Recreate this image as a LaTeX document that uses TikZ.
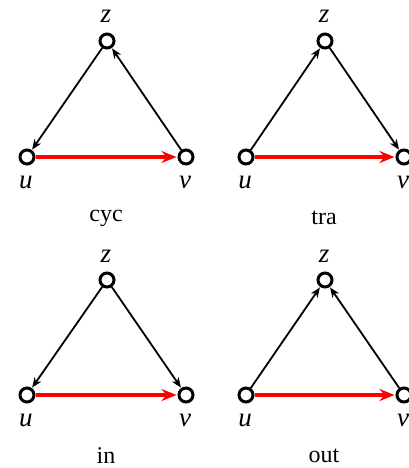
\documentclass[tikz,border=0pt]{standalone}
\usepackage{fontspec}
\setmainfont{Liberation Serif}
\usetikzlibrary{arrows.meta}
\tikzset{
  vtx/.style={circle,draw=black,fill=white,line width=3pt,minimum size=14pt,inner sep=0pt},
  lbl/.style={font=\fontsize{27}{29}\selectfont\itshape,inner sep=0pt},
  captxt/.style={font=\fontsize{24}{26}\selectfont,inner sep=0pt},
  blk/.style={line width=1.8pt,-{Stealth[length=10pt,width=8pt,inset=3pt]},shorten >=0.5pt},
  redarr/.style={red,line width=3.4pt,-{Stealth[length=15pt,width=12pt,inset=5pt]},shorten >=1pt}
}
\begin{document}
\begin{tikzpicture}[x=1pt,y=-1pt]
\useasboundingbox (0,0) rectangle (409,468);
% cyc
\node[vtx] (z1) at (107,41) {};
\node[vtx] (u1) at (27,157) {};
\node[vtx] (v1) at (186,157) {};
\node[lbl] (zl1) at (106,16) {z};
\node[lbl] (ul1) at (26,182) {u};
\node[lbl] (vl1) at (185,182) {v};
\node[captxt] (c1) at (106,218) {cyc};
\draw[blk] (z1) -- (u1);
\draw[blk] (v1) -- (z1);
\draw[redarr] (u1) -- (v1);
% tra
\node[vtx] (z2) at (325,41) {};
\node[vtx] (u2) at (246,157) {};
\node[vtx] (v2) at (404,157) {};
\node[lbl] (zl2) at (324,16) {z};
\node[lbl] (ul2) at (245,182) {u};
\node[lbl] (vl2) at (403,182) {v};
\node[captxt] (c2) at (324,218) {tra};
\draw[blk] (u2) -- (z2);
\draw[blk] (z2) -- (v2);
\draw[redarr] (u2) -- (v2);
% in
\node[vtx] (z3) at (107,280) {};
\node[vtx] (u3) at (27,395) {};
\node[vtx] (v3) at (186,395) {};
\node[lbl] (zl3) at (106,256) {z};
\node[lbl] (ul3) at (26,420) {u};
\node[lbl] (vl3) at (185,420) {v};
\node[captxt] (c3) at (106,456) {in};
\draw[blk] (z3) -- (u3);
\draw[blk] (z3) -- (v3);
\draw[redarr] (u3) -- (v3);
% out
\node[vtx] (z4) at (325,280) {};
\node[vtx] (u4) at (246,395) {};
\node[vtx] (v4) at (404,395) {};
\node[lbl] (zl4) at (324,256) {z};
\node[lbl] (ul4) at (245,420) {u};
\node[lbl] (vl4) at (403,420) {v};
\node[captxt] (c4) at (324,456) {out};
\draw[blk] (u4) -- (z4);
\draw[blk] (v4) -- (z4);
\draw[redarr] (u4) -- (v4);
\end{tikzpicture}
\end{document}
